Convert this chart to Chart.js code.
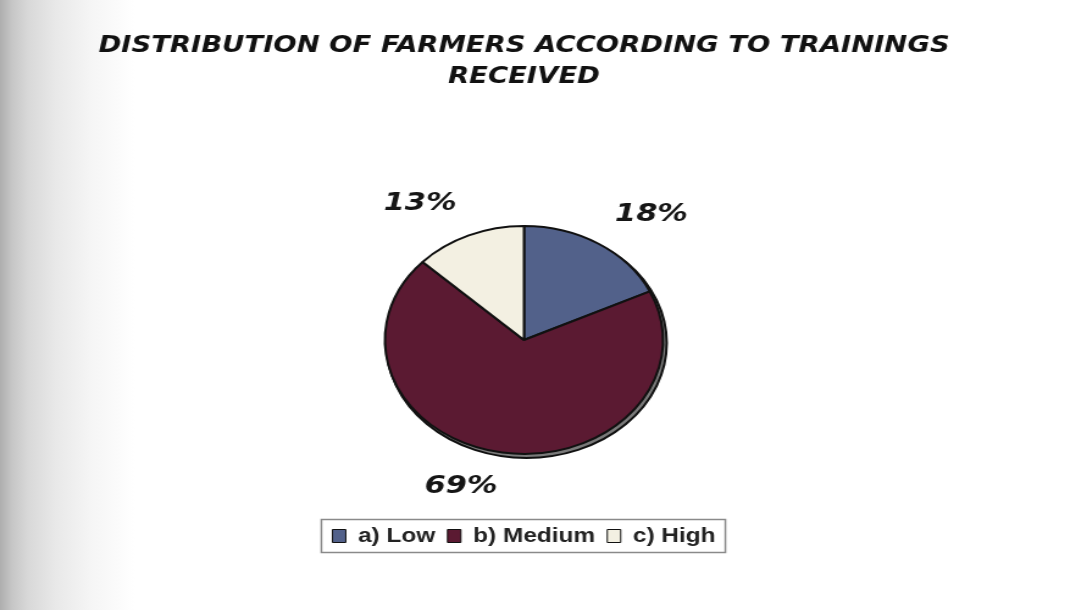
<!DOCTYPE html>
<html>
<head>
<meta charset="utf-8">
<script src="https://cdn.jsdelivr.net/npm/chart.js@4.4.1/dist/chart.umd.min.js"></script>
<style>
  html, body {
    margin: 0;
    padding: 0;
    width: 1084px;
    height: 610px;
    overflow: hidden;
    background: linear-gradient(to right, #aeaeae 0px, #c6c6c6 12px, #d8d8d8 28px, #e8e8e8 55px, #f5f5f5 90px, #ffffff 135px);
  }
  /* the scanned chart is stretched sideways, so the canvas is too */
  #wrap {
    position: absolute;
    left: 0;
    top: 0;
    width: 889px;
    height: 610px;
    transform: scaleX(1.22);
    transform-origin: 0 0;
  }
</style>
</head>
<body>
<div id="wrap"><canvas id="trainingChart" width="889" height="610"></canvas></div>
<script>
// training levels and their share of farmers (%)
const categories = ['a) Low', 'b) Medium', 'c) High'];
const shares = [18, 69, 13];
const sliceColors = ['#52618a', '#5b1a32', '#f3f0e2'];
const titleLines = ['DISTRIBUTION OF FARMERS ACCORDING TO TRAININGS', 'RECEIVED'];

// grey rim under the pie face gives it a bit of depth
const pieRim = {
	id: 'pieRim',
	beforeDatasetsDraw(chart) {
		const arc = chart.getDatasetMeta(0).data[0];
		if (!arc) return;
		const ctx = chart.ctx;
		ctx.save();
		ctx.beginPath();
		ctx.arc(arc.x + 2, arc.y + 3, arc.outerRadius + 1, 0, Math.PI * 2);
		ctx.fillStyle = '#7a7a7a';
		ctx.fill();
		ctx.lineWidth = 2;
		ctx.strokeStyle = '#111';
		ctx.stroke();
		ctx.restore();
	}
};

// percentage labels outside each slice
const sliceLabels = {
	id: 'sliceLabels',
	afterDraw(chart) {
		const ctx = chart.ctx;
		const meta = chart.getDatasetMeta(0);
		ctx.save();
		ctx.font = 'italic bold 25px "DejaVu Sans"';
		ctx.fillStyle = '#151515';
		ctx.textBaseline = 'middle';
		meta.data.forEach((arc, i) => {
			const mid = (arc.startAngle + arc.endAngle) / 2;
			const c = Math.cos(mid), s = Math.sin(mid);
			const r = arc.outerRadius;
			const px = arc.x + c * r * 1.22;
			const py = arc.y + s * r * 1.3;
			ctx.textAlign = c < -0.1 ? 'right' : (c > 0.1 ? 'left' : 'center');
			ctx.fillText(shares[i] + '%', px, py);
		});
		ctx.restore();
	}
};

// thin frame round the legend items
const legendFrame = {
	id: 'legendFrame',
	afterDraw(chart) {
		const boxes = chart.legend.legendHitBoxes;
		if (!boxes.length) return;
		const first = boxes[0], last = boxes[boxes.length - 1];
		const left = first.left - 9;
		const right = last.left + last.width + 8;
		const midY = first.top + first.height / 2;
		const ctx = chart.ctx;
		ctx.save();
		ctx.strokeStyle = '#8a8a8a';
		ctx.lineWidth = 1.5;
		ctx.strokeRect(left, midY - 16.5, right - left, 33);
		ctx.restore();
	}
};

const ctx = document.getElementById('trainingChart').getContext('2d');
new Chart(ctx, {
	type: 'pie',
	data: {
		labels: categories,
		datasets: [{
			data: shares,
			backgroundColor: sliceColors,
			borderColor: '#111',
			borderWidth: 2,
			radius: 114
		}]
	},
	options: {
		responsive: false,
		animation: false,
		layout: {
			padding: { top: 0, bottom: 54, left: 0, right: 30 }
		},
		plugins: {
			title: {
				display: true,
				text: titleLines,
				color: '#111',
				font: { family: 'DejaVu Sans', size: 22.5, weight: 'bold', style: 'italic', lineHeight: 1.4 },
				padding: { top: 30, bottom: 71 }
			},
			legend: {
				position: 'bottom',
				labels: {
					color: '#222',
					font: { family: 'Liberation Sans', size: 20, weight: 'bold' },
					boxWidth: 11,
					boxHeight: 13,
					padding: 10,
					generateLabels(chart) {
						const items = Chart.overrides.pie.plugins.legend.labels.generateLabels(chart);
						return items.map(it => Object.assign(it, { lineWidth: 1, strokeStyle: '#111' }));
					}
				}
			},
			tooltip: { enabled: false }
		}
	},
	plugins: [pieRim, sliceLabels, legendFrame]
});
</script>
</body>
</html>
